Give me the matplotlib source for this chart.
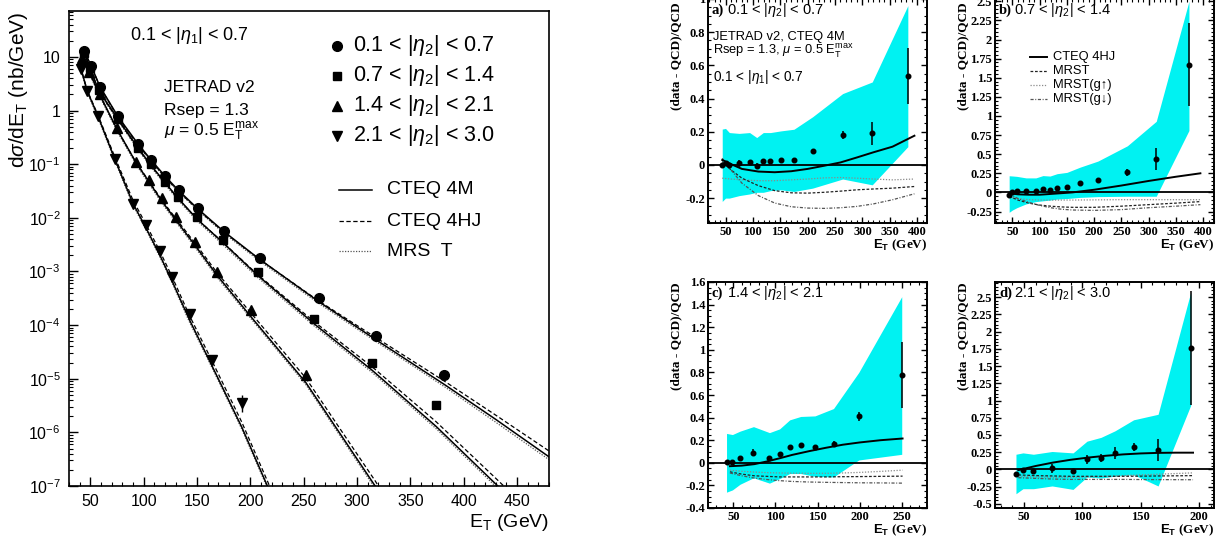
import numpy as np
import matplotlib
matplotlib.use("Agg")
import matplotlib.pyplot as plt
from matplotlib.ticker import (FixedLocator, FixedFormatter, MultipleLocator,
                               FuncFormatter, LogLocator, NullFormatter)

plt.rcParams["font.family"] = ["Liberation Sans", "DejaVu Sans"]
plt.rcParams["mathtext.fontset"] = "custom"
plt.rcParams["mathtext.rm"] = "Liberation Sans"
plt.rcParams["mathtext.it"] = "Liberation Sans:italic"
plt.rcParams["mathtext.bf"] = "Liberation Sans:bold"
plt.rcParams["mathtext.sf"] = "Liberation Sans"

# ================= LEFT PANEL DATA =================
# measured points, 0.1<|eta1|<0.7
E_c = [44, 51, 59, 76, 95, 107, 120, 133, 151, 175, 209, 264, 318, 382]
y_c = [13, 6.8, 2.8, 0.78, 0.24, 0.12, 0.061, 0.033, 0.015, 0.0058, 0.0018, 3.2e-4, 6.3e-5, 1.17e-5]
E_s = [44, 50, 58, 76, 95, 107, 120, 132, 150, 174, 207, 260, 314, 374]
y_s = [12, 6.1, 2.4, 0.7, 0.2, 0.1, 0.047, 0.025, 0.0102, 0.0039, 0.00097, 1.3e-4, 2.0e-5, 3.3e-6]
E_u = [42, 49, 59, 75, 93, 105, 117, 130, 148, 169, 201, 252]
y_u = [9.5, 5.3, 2.0, 0.48, 0.11, 0.05, 0.023, 0.0103, 0.0035, 9.6e-4, 1.9e-4, 1.15e-5]
E_d = [41, 47, 57, 73, 90, 102, 115, 127, 143, 164, 192]
y_d = [6.0, 2.3, 0.78, 0.125, 0.018, 0.0075, 0.0024, 7.9e-4, 1.6e-4, 2.2e-5, 3.5e-6]
y_d_err_lo = [0, 0, 0, 0, 0, 0, 0, 0, 0, 0, 1.1e-6]
y_d_err_hi = [0, 0, 0, 0, 0, 0, 0, 0, 0, 0, 1.4e-6]

# theory curves (CTEQ 4M, CTEQ 4HJ, MRS T)
thE_c = [44, 51, 59, 76, 95, 107, 120, 133, 151, 175, 209, 264, 318, 382, 430, 480]
c4m_c = [13.0, 6.7, 2.8, 0.77, 0.235, 0.12, 0.060, 0.032, 0.0146, 0.0056, 0.00167, 2.75e-4, 5.3e-5, 7.8e-6, 1.75e-6, 3.5e-7]
c4hj_c = [13.0, 6.7, 2.77, 0.75, 0.226, 0.115, 0.0574, 0.0306, 0.0141, 0.00545, 0.00166, 2.83e-4, 5.8e-5, 9.0e-6, 2.1e-6, 4.5e-7]
mrst_c = [12.4, 6.4, 2.65, 0.72, 0.22, 0.112, 0.056, 0.030, 0.0137, 0.0052, 0.00155, 2.55e-4, 4.9e-5, 7.1e-6, 1.55e-6, 3.1e-7]

thE_s = [44, 50, 58, 76, 95, 107, 120, 132, 150, 174, 207, 260, 314, 374, 432, 445]
c4m_s = [12.4, 6.0, 2.35, 0.69, 0.198, 0.095, 0.0456, 0.0236, 0.0095, 0.0035, 8.4e-4, 1.05e-4, 1.45e-5, 1.3e-6, 1.0e-7, 5.5e-8]
c4hj_s = [12.3, 5.9, 2.28, 0.67, 0.192, 0.093, 0.0447, 0.0232, 0.0095, 0.00354, 8.7e-4, 1.15e-4, 1.68e-5, 1.59e-6, 1.28e-7, 7.2e-8]
mrst_s = [11.6, 5.6, 2.2, 0.64, 0.183, 0.088, 0.042, 0.0218, 0.0088, 0.0032, 7.7e-4, 9.6e-5, 1.32e-5, 1.18e-6, 9.0e-8, 5.0e-8]

thE_u = [42, 49, 59, 75, 93, 105, 117, 130, 148, 169, 201, 252, 317, 325]
c4m_u = [9.8, 5.3, 1.95, 0.45, 0.106, 0.047, 0.0205, 0.0092, 0.0031, 8.4e-4, 1.4e-4, 8.5e-6, 1.0e-7, 5.5e-8]
c4hj_u = [9.5, 5.15, 1.91, 0.446, 0.107, 0.0484, 0.0215, 0.00984, 0.00341, 9.4e-4, 1.64e-4, 1.03e-5, 1.25e-7, 6.9e-8]
mrst_u = [9.0, 4.9, 1.8, 0.415, 0.098, 0.043, 0.0189, 0.0085, 0.00285, 7.7e-4, 1.29e-4, 7.8e-6, 9.0e-8, 5.0e-8]

thE_d = [41, 47, 57, 73, 90, 102, 115, 127, 143, 164, 192, 216, 222]
c4m_d = [6.3, 2.35, 0.8, 0.124, 0.0185, 0.0066, 0.00205, 6.4e-4, 1.25e-4, 1.75e-5, 1.25e-6, 1.0e-7, 5.2e-8]
c4hj_d = [6.3, 2.4, 0.84, 0.136, 0.0213, 0.0077, 0.00243, 7.7e-4, 1.5e-4, 2.16e-5, 1.55e-6, 1.24e-7, 6.5e-8]
mrst_d = [5.9, 2.2, 0.745, 0.115, 0.0172, 0.0061, 0.0019, 5.95e-4, 1.13e-4, 1.62e-5, 1.15e-6, 9.2e-8, 4.8e-8]

left_ytick_vals = [1e-7, 1e-6, 1e-5, 1e-4, 1e-3, 1e-2, 1e-1, 1, 10]
left_ytick_labels = [r"$10^{-7}$", r"$10^{-6}$", r"$10^{-5}$", r"$10^{-4}$",
                     r"$10^{-3}$", r"$10^{-2}$", r"$10^{-1}$", "1", "10"]
series_labels = [r"0.1 < |$\eta_2$| < 0.7", r"0.7 < |$\eta_2$| < 1.4",
                 r"1.4 < |$\eta_2$| < 2.1", r"2.1 < |$\eta_2$| < 3.0"]
pdf_labels = ["CTEQ 4M", "CTEQ 4HJ", "MRS  T"]

# ================= RIGHT PANELS DATA =================
# a) 0.1<|eta2|<0.7
a_E = [44, 50, 57, 75, 94, 107, 119, 132, 151, 175, 209, 264, 318, 383]
a_r = [0.0, 0.012, 0.0, 0.01, 0.02, -0.006, 0.026, 0.022, 0.028, 0.028, 0.082, 0.18, 0.19, 0.535]
a_err = [0.005, 0.005, 0.005, 0.02, 0.008, 0.02, 0.008, 0.008, 0.008, 0.01, 0.012, 0.026, 0.07, 0.168]
a_hi = [0.216, 0.22, 0.195, 0.19, 0.195, 0.165, 0.195, 0.195, 0.205, 0.215, 0.29, 0.43, 0.5, 0.96]
a_lo = [-0.22, -0.2, -0.2, -0.185, -0.175, -0.165, -0.165, -0.155, -0.15, -0.16, -0.14, -0.085, -0.12, 0.11]
a_thE = [44, 60, 80, 110, 140, 170, 200, 230, 260, 290, 320, 355, 395]
a_hj = [0.03, 0.005, -0.024, -0.04, -0.044, -0.038, -0.024, -0.005, 0.015, 0.045, 0.076, 0.11, 0.176]
a_mrst = [0.02, -0.03, -0.08, -0.125, -0.155, -0.168, -0.17, -0.165, -0.158, -0.15, -0.145, -0.14, -0.13]
a_gup = [-0.08, -0.085, -0.09, -0.095, -0.095, -0.09, -0.085, -0.078, -0.076, -0.08, -0.085, -0.09, -0.085]
a_gdn = [0.04, -0.03, -0.11, -0.185, -0.23, -0.252, -0.26, -0.262, -0.258, -0.25, -0.235, -0.21, -0.174]

# b) 0.7<|eta2|<1.4
b_E = [44, 50, 58, 75, 93, 106, 119, 132, 150, 174, 207, 261, 314, 374]
b_r = [-0.035, 0.01, 0.02, 0.013, 0.013, 0.05, 0.035, 0.06, 0.075, 0.118, 0.157, 0.262, 0.437, 1.67]
b_err = [0.008, 0.006, 0.006, 0.006, 0.006, 0.008, 0.008, 0.008, 0.008, 0.01, 0.012, 0.05, 0.145, 0.54]
b_hi = [0.218, 0.215, 0.21, 0.19, 0.19, 0.22, 0.214, 0.245, 0.262, 0.33, 0.41, 0.61, 0.93, 2.5]
b_lo = [-0.26, -0.23, -0.2, -0.15, -0.12, -0.11, -0.1, -0.087, -0.08, -0.065, -0.055, -0.05, -0.05, 0.81]
b_thE = [44, 60, 80, 100, 120, 140, 160, 200, 250, 300, 350, 395]
b_hj = [-0.01, -0.025, -0.03, -0.03, -0.02, -0.01, 0.0, 0.035, 0.09, 0.15, 0.205, 0.25]
b_mrst = [-0.05, -0.1, -0.14, -0.165, -0.18, -0.19, -0.195, -0.195, -0.18, -0.16, -0.14, -0.12]
b_gup = [-0.06, -0.08, -0.095, -0.1, -0.1, -0.1, -0.1, -0.098, -0.095, -0.095, -0.095, -0.095]
b_gdn = [-0.02, -0.08, -0.13, -0.17, -0.2, -0.22, -0.23, -0.235, -0.225, -0.2, -0.18, -0.16]

# c) 1.4<|eta2|<2.1
c_E = [42, 49, 58, 74, 93, 105, 117, 130, 147, 169, 199, 250]
c_r = [0.005, 0.005, 0.045, 0.09, 0.045, 0.075, 0.14, 0.157, 0.14, 0.17, 0.41, 0.776]
c_err = [0.008, 0.008, 0.01, 0.03, 0.01, 0.02, 0.012, 0.02, 0.01, 0.02, 0.04, 0.29]
c_hi = [0.26, 0.25, 0.28, 0.32, 0.267, 0.30, 0.38, 0.41, 0.415, 0.48, 0.8, 1.47]
c_lo = [-0.26, -0.24, -0.19, -0.133, -0.18, -0.14, -0.095, -0.095, -0.12, -0.125, 0.025, 0.075]
c_thE = [46, 60, 75, 90, 105, 120, 140, 160, 180, 200, 225, 251]
c_hj = [-0.03, -0.025, -0.012, 0.012, 0.04, 0.07, 0.103, 0.133, 0.16, 0.18, 0.2, 0.215]
c_mrst = [-0.08, -0.1, -0.115, -0.12, -0.125, -0.125, -0.125, -0.125, -0.123, -0.122, -0.12, -0.118]
c_gup = [-0.065, -0.075, -0.082, -0.087, -0.09, -0.092, -0.093, -0.093, -0.09, -0.085, -0.076, -0.065]
c_gdn = [-0.09, -0.115, -0.135, -0.148, -0.158, -0.165, -0.17, -0.173, -0.175, -0.177, -0.178, -0.18]

# d) 2.1<|eta2|<3.0
d_E = [43, 49, 58, 74, 92, 104, 116, 128, 144, 165, 193]
d_r = [-0.063, -0.015, -0.024, 0.02, -0.02, 0.145, 0.17, 0.237, 0.324, 0.276, 1.76]
d_err = [0.01, 0.02, 0.015, 0.065, 0.03, 0.065, 0.06, 0.09, 0.06, 0.16, 0.83]
d_hi = [0.22, 0.24, 0.22, 0.26, 0.24, 0.41, 0.465, 0.56, 0.72, 0.8, 2.57]
d_lo = [-0.353, -0.28, -0.28, -0.24, -0.29, -0.11, -0.126, -0.097, -0.077, -0.24, 0.93]
d_thE = [45, 60, 75, 90, 105, 120, 135, 150, 165, 180, 195]
d_hj = [-0.01, 0.05, 0.1, 0.14, 0.172, 0.198, 0.218, 0.232, 0.24, 0.243, 0.243]
d_mrst = [-0.08, -0.09, -0.095, -0.1, -0.1, -0.1, -0.1, -0.098, -0.095, -0.093, -0.09]
d_gup = [-0.1, -0.11, -0.115, -0.115, -0.11, -0.1, -0.09, -0.08, -0.07, -0.06, -0.05]
d_gdn = [-0.12, -0.13, -0.14, -0.145, -0.145, -0.145, -0.145, -0.147, -0.148, -0.149, -0.15]

ratio_legend = ["CTEQ 4HJ", "MRST", "MRST(g\u2191)", "MRST(g\u2193)"]
panel_titles = [("a)", r"0.1 < |$\eta_2$| < 0.7"), ("b)", r"0.7 < |$\eta_2$| < 1.4"),
                ("c)", r"1.4 < |$\eta_2$| < 2.1"), ("d)", r"2.1 < |$\eta_2$| < 3.0")]

# ================= FIGURE =================
W, H = 1223, 537
fig = plt.figure(figsize=(W / 100, H / 100), dpi=100)


def ax_at(x0, x1, top, bottom):
    return fig.add_axes([x0 / W, (H - bottom) / H, (x1 - x0) / W, (bottom - top) / H])


def ftxt(x, y, s, **kw):
    kw.setdefault("va", "center")
    kw.setdefault("ha", "left")
    return fig.text(x / W, 1 - y / H, s, **kw)


# ---------- left panel ----------
axL = ax_at(69, 549, 11, 486)
axL.set_yscale("log")
for E, m4, hj, mr in [(thE_c, c4m_c, c4hj_c, mrst_c), (thE_s, c4m_s, c4hj_s, mrst_s),
                      (thE_u, c4m_u, c4hj_u, mrst_u), (thE_d, c4m_d, c4hj_d, mrst_d)]:
    axL.plot(E, mr, color="#555555", lw=0.9, ls=(0, (1, 1.2)), zorder=2)
    axL.plot(E, hj, color="black", lw=0.9, ls=(0, (3.5, 2)), zorder=2)
    axL.plot(E, m4, color="black", lw=1.1, zorder=3)
axL.plot(E_c, y_c, "o", color="black", ms=7, zorder=5)
axL.plot(E_s, y_s, "s", color="black", ms=6.3, zorder=5)
axL.plot(E_u, y_u, "^", color="black", ms=6.5, zorder=5)
axL.errorbar(E_d, y_d, yerr=[y_d_err_lo, y_d_err_hi], fmt="v", color="black", ms=6.5,
             elinewidth=1.0, capsize=0, zorder=5)
axL.set_xlim(30, 480)
axL.set_ylim(1e-7, 72)
axL.xaxis.set_major_locator(MultipleLocator(50))
axL.xaxis.set_minor_locator(MultipleLocator(10))
axL.yaxis.set_major_locator(FixedLocator(left_ytick_vals))
axL.yaxis.set_major_formatter(FixedFormatter(left_ytick_labels))
axL.yaxis.set_minor_locator(LogLocator(base=10, subs=np.arange(2, 10), numticks=30))
axL.yaxis.set_minor_formatter(NullFormatter())
axL.tick_params(which="both", direction="in", top=False, right=False, labelsize=11.5)
axL.tick_params(which="major", length=6.5, width=1.0, pad=6)
axL.tick_params(which="minor", length=3.2, width=0.8)
for sp in axL.spines.values():
    sp.set_linewidth(1.2)
axL.set_xlabel(r"E$_{\rm T}$ (GeV)", loc="right", fontsize=14, labelpad=2)
axL.set_ylabel(r"d$\sigma$/dE$_{\rm T}$ (nb/GeV)", loc="top", fontsize=15)
axL.yaxis.set_label_coords(-0.082, 0.998)

ftxt(130, 36, r"0.1 < |$\eta_1$| < 0.7", fontsize=13)
ftxt(164, 87, "JETRAD v2", fontsize=12.5)
ftxt(164, 110, "Rsep = 1.3", fontsize=12.5)
ftxt(164, 132, r"$\mu$ = 0.5 E$_{\rm T}^{\rm max}$", fontsize=12.5)

leg_markers = ["o", "s", "^", "v"]
leg_ms = [7, 6.3, 6.5, 6.5]
leg_rows = [46, 76, 106, 136]
for mk, ms_, yy, lab in zip(leg_markers, leg_ms, leg_rows, series_labels):
    fig.lines.append(plt.Line2D([337 / W], [1 - yy / H], marker=mk, ms=ms_, color="black",
                                transform=fig.transFigure, figure=fig))
    ftxt(353, yy, lab, fontsize=15.5)

pdf_styles = [dict(color="black", lw=1.1), dict(color="black", lw=0.9, ls=(0, (3.5, 2))),
              dict(color="#555555", lw=0.9, ls=(0, (1, 1.2)))]
for yy, lab, st in zip([190, 221, 251], pdf_labels, pdf_styles):
    fig.lines.append(plt.Line2D([339 / W, 372 / W], [1 - yy / H, 1 - yy / H],
                                transform=fig.transFigure, figure=fig, **st))
    ftxt(387, yy, lab, fontsize=14)

# ---------- right panels ----------
CYAN = "#00f2f2"
serif_bold = dict(fontfamily="Liberation Serif", fontweight="bold")


def ratio_panel(ax, E, r, err, hi, lo, thE, hj, mr, gu, gd, xlim, ylim, ymaj, ymin, ylab_top):
    ax.fill_between(E, lo, hi, color=CYAN, lw=0, zorder=1)
    ax.axhline(0, color="black", lw=1.3, zorder=3)
    ax.plot(thE, gu, color="#8a8a8a", lw=0.9, ls=(0, (1, 1.3)), zorder=2)
    ax.plot(thE, mr, color="#222222", lw=0.9, ls=(0, (2.2, 1.4)), zorder=2)
    ax.plot(thE, gd, color="#555555", lw=0.9, ls=(0, (2.5, 1.3, 0.8, 1.3)), zorder=2)
    ax.plot(thE, hj, color="black", lw=1.4, zorder=4)
    ax.errorbar(E, r, yerr=err, fmt="o", color="black", ms=3.3, elinewidth=1.1,
                capsize=0, zorder=5)
    ax.set_xlim(*xlim)
    ax.set_ylim(*ylim)
    ax.xaxis.set_major_locator(MultipleLocator(50))
    ax.xaxis.set_minor_locator(MultipleLocator(10))
    ax.yaxis.set_major_locator(MultipleLocator(ymaj))
    ax.yaxis.set_minor_locator(MultipleLocator(ymin))
    fmt = FuncFormatter(lambda v, p: "%g" % round(v, 3))
    ax.xaxis.set_major_formatter(fmt)
    ax.yaxis.set_major_formatter(fmt)
    ax.tick_params(which="both", direction="in", top=True, right=True, labelsize=9)
    ax.tick_params(which="major", length=4.5, width=1.0, pad=2)
    ax.tick_params(which="minor", length=2.3, width=0.8)
    for lab in ax.get_xticklabels() + ax.get_yticklabels():
        lab.set_fontfamily("Liberation Serif")
        lab.set_fontweight("bold")
    for sp in ax.spines.values():
        sp.set_linewidth(1.4)
    ax.set_ylabel("(data - QCD)/QCD", loc="top", fontsize=9.5, **serif_bold)
    ax.yaxis.set_label_coords(-0.118, ylab_top)
    ax.set_xlabel(r"$\mathbf{E}_{\mathbf{T}}$ (GeV)", loc="right", fontsize=9.5,
                  labelpad=0, **serif_bold)


axA = ax_at(708, 927, -1, 223)
ratio_panel(axA, a_E, a_r, a_err, a_hi, a_lo, a_thE, a_hj, a_mrst, a_gup, a_gdn,
            (18, 418), (-0.35, 1.0), 0.2, 0.05, 0.985)
axB = ax_at(995, 1214, -1, 223)
ratio_panel(axB, b_E, b_r, b_err, b_hi, b_lo, b_thE, b_hj, b_mrst, b_gup, b_gdn,
            (18, 420), (-0.4, 2.53), 0.25, 0.05, 0.985)
axC = ax_at(708, 927, 282, 508)
ratio_panel(axC, c_E, c_r, c_err, c_hi, c_lo, c_thE, c_hj, c_mrst, c_gup, c_gdn,
            (20, 280), (-0.4, 1.6), 0.2, 0.05, 1.0)
axD = ax_at(995, 1214, 282, 508)
ratio_panel(axD, d_E, d_r, d_err, d_hi, d_lo, d_thE, d_hj, d_mrst, d_gup, d_gdn,
            (25, 213), (-0.56, 2.72), 0.25, 0.05, 1.0)

# panel titles
for (tag, rng), (x0, y0) in zip(panel_titles, [(712, 10), (999, 10), (712, 293), (999, 293)]):
    ftxt(x0, y0, tag, fontsize=10.5, **serif_bold)
    ftxt(x0 + 15, y0, rng, fontsize=10.5)

ftxt(713, 37, "JETRAD v2, CTEQ 4M", fontsize=9.3)
ftxt(713, 51, r"Rsep = 1.3, $\mu$ = 0.5 E$_{\rm T}^{\rm max}$", fontsize=9.3)
ftxt(713, 77, r"0.1 < |$\eta_1$| < 0.7", fontsize=9.8)

rl_styles = [dict(color="black", lw=1.4), dict(color="#222222", lw=0.9, ls=(0, (2.2, 1.4))),
             dict(color="#8a8a8a", lw=0.9, ls=(0, (1, 1.3))),
             dict(color="#555555", lw=0.9, ls=(0, (2.5, 1.3, 0.8, 1.3)))]
for yy, lab, st in zip([57, 71, 85, 99], ratio_legend, rl_styles):
    fig.lines.append(plt.Line2D([1030 / W, 1047 / W], [1 - yy / H, 1 - yy / H],
                                transform=fig.transFigure, figure=fig, **st))
    ftxt(1053, yy, lab, fontsize=9.3, family=["Liberation Sans", "DejaVu Sans"])

fig.savefig("out.png", dpi=100)
